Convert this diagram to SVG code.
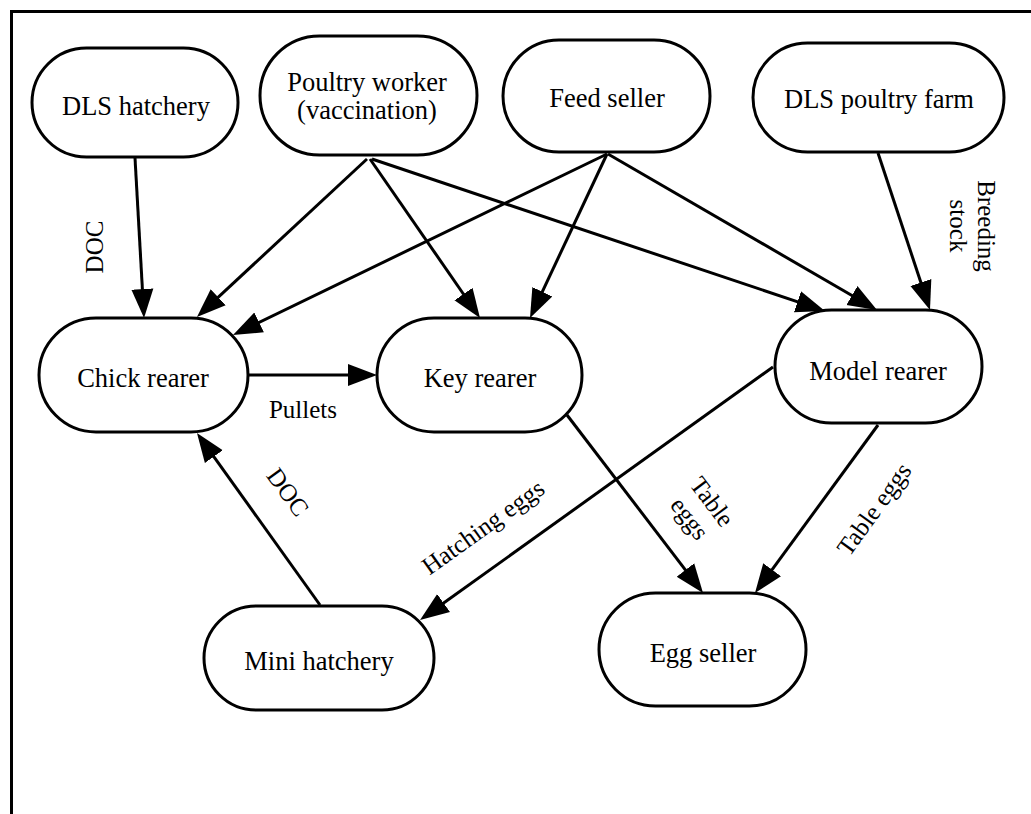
<svg xmlns="http://www.w3.org/2000/svg" width="1031" height="814" viewBox="0 0 1031 814">
<defs>
<style>
.node{fill:#fff;stroke:#000;stroke-width:3}
.t{font-family:"Liberation Serif","Times New Roman",serif;font-size:26.5px;fill:#000;text-anchor:middle}
.lbl{font-family:"Liberation Serif","Times New Roman",serif;font-size:25px;fill:#000;text-anchor:middle}
.e{fill:none;stroke:#000;stroke-width:3;marker-end:url(#ah)}
.frame{fill:none;stroke:#000;stroke-width:3}
</style>
<marker id="ah" markerUnits="userSpaceOnUse" markerWidth="30" markerHeight="24" refX="9" refY="11" orient="auto" viewBox="0 0 30 22">
<path d="M0,0 L29,11 L0,22 Z" fill="#000"/>
</marker>
</defs>
<rect width="1031" height="814" fill="#fff"/>
<rect class="frame" x="11.5" y="11.5" width="1030" height="810"/>
<g id="connectors">
<line class="e" x1="135" y1="158" x2="142.9" y2="298"/>
<line class="e" x1="367" y1="159" x2="211.6" y2="303.4"/>
<line class="e" x1="370" y1="159" x2="468.6" y2="301.5"/>
<line class="e" x1="372" y1="159" x2="806" y2="304.6"/>
<line class="e" x1="607" y1="154" x2="251" y2="326.3"/>
<line class="e" x1="607" y1="154" x2="538.5" y2="299.9"/>
<line class="e" x1="608" y1="154" x2="859.7" y2="300"/>
<line class="e" x1="878" y1="153" x2="923.7" y2="291"/>
<line class="e" x1="248" y1="375" x2="357" y2="375"/>
<line class="e" x1="320" y1="605" x2="208.6" y2="449.3"/>
<line class="e" x1="773" y1="367" x2="436.3" y2="608.3"/>
<line class="e" x1="567" y1="415" x2="690.9" y2="577.1"/>
<line class="e" x1="878" y1="425" x2="766.8" y2="576.9"/>
<text class="lbl" transform="translate(94,247) rotate(-90)" y="8.5">DOC</text>
<text class="lbl" x="303" y="418">Pullets</text>
<text class="lbl" transform="translate(288,492) rotate(54)" y="8.5">DOC</text>
<text class="lbl" transform="translate(972,226) rotate(90)"><tspan x="0" y="-6">Breeding</tspan><tspan x="0" y="22">stock</tspan></text>
<text class="lbl" transform="translate(483,527) rotate(-35.6)" y="8.5">Hatching eggs</text>
<text class="lbl" transform="translate(701,510) rotate(53)"><tspan x="0" y="-5.5">Table</tspan><tspan x="0" y="22.5">eggs</tspan></text>
<text class="lbl" transform="translate(874,509) rotate(-54)" y="8.5">Table eggs</text>
</g>
<g id="dls-hatchery">
<rect class="node" x="32" y="48" width="206" height="109" rx="54.5"/>
<text class="t" x="136" y="115">DLS hatchery</text>
</g>
<g id="poultry-worker">
<rect class="node" x="260" y="36" width="217" height="119" rx="59.5"/>
<text class="t" x="367" y="91">Poultry worker</text>
<text class="t" x="367" y="119">(vaccination)</text>
</g>
<g id="feed-seller">
<rect class="node" x="503" y="40" width="207" height="112" rx="56"/>
<text class="t" x="607" y="107">Feed seller</text>
</g>
<g id="dls-poultry-farm">
<rect class="node" x="753" y="43" width="251" height="109" rx="54.5"/>
<text class="t" x="879" y="108">DLS poultry farm</text>
</g>
<g id="chick-rearer">
<rect class="node" x="39" y="318" width="209" height="114" rx="57"/>
<text class="t" x="143" y="387">Chick rearer</text>
</g>
<g id="key-rearer">
<rect class="node" x="377" y="318" width="205" height="114" rx="57"/>
<text class="t" x="480" y="387">Key rearer</text>
</g>
<g id="model-rearer">
<rect class="node" x="775" y="310" width="207" height="113" rx="56.5"/>
<text class="t" x="878" y="380">Model rearer</text>
</g>
<g id="mini-hatchery">
<rect class="node" x="204" y="606" width="230" height="104" rx="52"/>
<text class="t" x="319" y="670">Mini hatchery</text>
</g>
<g id="egg-seller">
<rect class="node" x="599" y="593" width="207" height="113" rx="56.5"/>
<text class="t" x="703" y="662">Egg seller</text>
</g>
</svg>
